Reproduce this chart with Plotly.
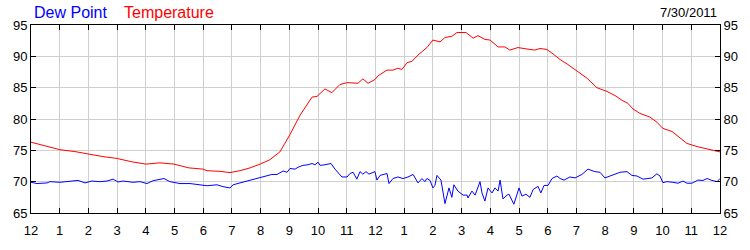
import plotly.graph_objects as go

# Hours since midnight (0..24) and values
temp_hours = [0, 0.49, 1.01, 1.53, 1.99, 2.51, 3.0, 3.48, 4.0, 4.49, 4.98, 5.5, 5.99, 6.13, 6.58, 6.93,
              7.28, 7.63, 7.98, 8.32, 8.67, 9.02, 9.37, 9.65, 9.79, 9.96, 10.24, 10.48, 10.76, 11.01,
              11.39, 11.56, 11.74, 11.98, 12.09, 12.4, 12.61, 12.78, 12.92, 13.1, 13.27, 13.48, 13.79,
              14.0, 14.25, 14.42, 14.66, 14.84, 15.15, 15.4, 15.57, 15.81, 15.99, 16.27, 16.51, 16.68,
              16.96, 17.38, 17.55, 17.73, 17.97, 18.18, 18.43, 18.7, 19.02, 19.37, 19.71, 20.06, 20.34,
              20.58, 20.79, 20.97, 21.21, 21.56, 21.8, 22.01, 22.33, 22.61, 22.85, 23.2, 23.48, 23.75, 24.0]
temperature = [76.3, 75.7, 75.1, 74.8, 74.4, 74.0, 73.7, 73.2, 72.8, 73.0, 72.8, 72.2, 72.0, 71.75, 71.65, 71.45,
               71.75, 72.2, 72.8, 73.5, 74.75, 77.5, 80.6, 82.5, 83.5, 83.6, 84.8, 84.2, 85.5, 85.8,
               85.7, 86.4, 85.7, 86.3, 86.9, 87.8, 87.8, 88.1, 87.9, 89.0, 89.2, 90.2, 91.4,
               92.6, 92.3, 93.0, 93.2, 93.8, 93.8, 92.9, 93.3, 92.7, 92.6, 91.5, 91.5, 91.0,
               91.4, 91.1, 91.0, 91.25, 91.1, 90.4, 89.5, 88.7, 87.6, 86.5, 85.0, 84.4, 83.75,
               83.0, 82.5, 81.6, 80.9, 80.3, 79.5, 78.5, 78.0, 77.0, 76.1, 75.6, 75.3, 74.9, 74.75]

dew_hours = [0, 0.21, 0.56, 0.66, 1.01, 1.25, 1.43, 1.64, 1.88, 2.12, 2.4, 2.65, 2.86, 3.03, 3.2, 3.55,
             3.8, 4.04, 4.25, 4.63, 4.84, 5.19, 5.54, 5.89, 6.13, 6.48, 6.69, 6.93, 7.04, 7.28, 7.63,
             7.98, 8.22, 8.39, 8.57, 8.78, 8.92, 9.02, 9.2, 9.3, 9.47, 9.65, 9.79, 9.89, 10.0, 10.07,
             10.24, 10.45, 10.59, 10.69, 10.83, 11.01, 11.11, 11.22, 11.35, 11.46, 11.56, 11.67, 11.77,
             11.98, 12.05, 12.16, 12.4, 12.47, 12.61, 12.78, 12.96, 13.13, 13.31, 13.48, 13.62, 13.72,
             13.79, 13.9, 14.0, 14.07, 14.14, 14.28, 14.42, 14.56, 14.66, 14.73, 14.87, 15.05, 15.19,
             15.22, 15.36, 15.47, 15.64, 15.71, 15.81, 15.92, 16.06, 16.16, 16.27, 16.34, 16.44, 16.58,
             16.65, 16.82, 17.0, 17.1, 17.24, 17.38, 17.49, 17.66, 17.76, 17.87, 18.01, 18.15, 18.32,
             18.43, 18.57, 18.77, 18.95, 19.19, 19.4, 19.64, 19.82, 19.99, 20.17, 20.34, 20.52, 20.76,
             20.93, 21.11, 21.32, 21.49, 21.63, 21.8, 21.91, 22.01, 22.15, 22.36, 22.54, 22.71, 22.85,
             23.02, 23.23, 23.41, 23.55, 23.72, 23.9, 24.0]
dew_point = [69.9, 69.7, 69.8, 70.0, 69.9, 70.0, 70.1, 70.2, 69.8, 70.1, 70.0, 70.1, 70.4, 69.95, 70.1, 69.9,
             70.0, 69.7, 70.15, 70.5, 70.0, 69.7, 69.7, 69.5, 69.35, 69.5, 69.2, 69.0, 69.5, 69.8, 70.25,
             70.6, 71.0, 71.15, 71.15, 71.7, 71.5, 72.1, 72.0, 72.3, 72.6, 72.7, 72.9, 72.7, 73.1, 72.6,
             72.7, 72.9, 72.0, 71.5, 70.75, 70.75, 71.3, 71.5, 70.4, 71.6, 71.2, 71.6, 71.2,
             71.6, 70.25, 71.0, 71.3, 69.7, 70.5, 70.75, 70.5, 70.75, 71.15, 69.8, 70.5, 70.0,
             70.5, 70.2, 69.0, 69.4, 71.0, 70.25, 66.5, 69.0, 67.5, 69.5, 68.5, 67.85, 67.85,
             67.4, 68.5, 67.85, 70.0, 68.2, 66.9, 69.0, 68.2, 69.0, 68.5, 70.25, 67.25, 67.85,
             68.0, 66.4, 69.0, 67.7, 68.0, 67.5, 68.75, 69.25, 68.2, 69.4, 69.4, 70.5, 70.9,
             70.5, 70.25, 70.75, 70.6, 71.15, 72.0, 71.6, 71.5, 70.6, 70.9, 71.2, 71.5, 71.6,
             71.0, 70.9, 70.4, 70.5, 70.6, 71.25, 70.9, 69.85, 70.0, 69.9, 69.75, 70.1, 69.75,
             69.75, 70.25, 70.2, 70.5, 70.2, 70.0, 70.5]

x_tick_vals = list(range(0, 25))
x_tick_text = ["12", "1", "2", "3", "4", "5", "6", "7", "8", "9", "10", "11",
               "12", "1", "2", "3", "4", "5", "6", "7", "8", "9", "10", "11", "12"]
y_tick_vals = [65, 70, 75, 80, 85, 90, 95]
date_label = "7/30/2011"

FONT = "Liberation Sans, Arial, sans-serif"

fig = go.Figure()
fig.add_trace(go.Scatter(x=dew_hours, y=dew_point, mode="lines", name="Dew Point",
                         line=dict(color="#0000ff", width=1)))
fig.add_trace(go.Scatter(x=temp_hours, y=temperature, mode="lines", name="Temperature",
                         line=dict(color="#ff0000", width=1)))
# invisible trace on the right axis so it renders
fig.add_trace(go.Scatter(x=temp_hours, y=temperature, mode="lines", yaxis="y2",
                         line=dict(color="rgba(0,0,0,0)", width=0), hoverinfo="skip", showlegend=False))

axis_common = dict(showline=True, linecolor="black", linewidth=1, ticks="inside", ticklen=5,
                   tickcolor="black", tickfont=dict(family=FONT, size=13, color="black"),
                   zeroline=False)

fig.update_layout(
    width=750, height=250, autosize=False,
    margin=dict(l=31, r=30, t=25, b=25, pad=0),
    paper_bgcolor="white", plot_bgcolor="white",
    showlegend=False,
    xaxis=dict(range=[0, 24], tickvals=x_tick_vals, ticktext=x_tick_text, showgrid=True,
               gridcolor="#cfcfcf", gridwidth=1, mirror="ticks", ticklabelstandoff=5, **axis_common),
    yaxis=dict(range=[65, 95], tickvals=y_tick_vals, showgrid=True, gridcolor="#cfcfcf",
               gridwidth=1, mirror="ticks", **axis_common),
    yaxis2=dict(range=[65, 95], tickvals=y_tick_vals, overlaying="y", side="right",
                showgrid=False, **axis_common),
)


def px_to_paper_x(px):
    return (px - 31) / 689.0


def px_to_paper_y(py):
    return (225 - py) / 200.0


fig.add_annotation(text="Dew Point", x=px_to_paper_x(32), y=px_to_paper_y(12), xref="paper", yref="paper",
                   xanchor="left", yanchor="middle", showarrow=False,
                   font=dict(family=FONT, size=16, color="#0000ff"))
fig.add_annotation(text="Temperature", x=px_to_paper_x(122), y=px_to_paper_y(12), xref="paper", yref="paper",
                   xanchor="left", yanchor="middle", showarrow=False,
                   font=dict(family=FONT, size=16, color="#ff0000"))
fig.add_annotation(text=date_label, x=px_to_paper_x(719), y=px_to_paper_y(12), xref="paper", yref="paper",
                   xanchor="right", yanchor="middle", showarrow=False,
                   font=dict(family=FONT, size=13, color="black"))

fig.write_html("out.html")
